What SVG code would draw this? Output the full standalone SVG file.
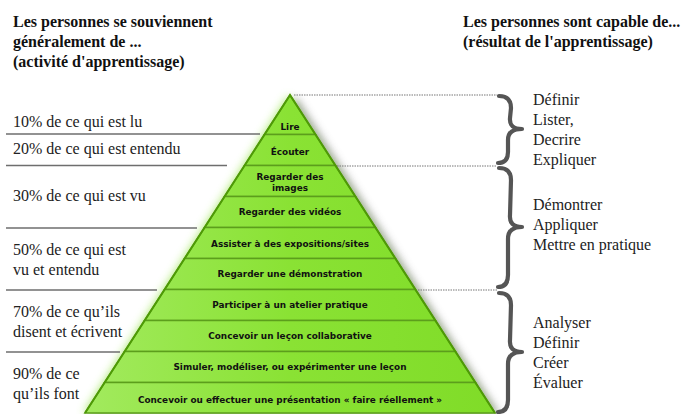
<svg xmlns="http://www.w3.org/2000/svg" width="690" height="414" viewBox="0 0 690 414">
<style>
.title{font-family:"Liberation Serif",serif;font-weight:bold;font-size:16px;fill:#111}
.lbl{font-family:"Liberation Serif",serif;font-size:16px;fill:#222}
.lvl polygon{fill:url(#g);stroke:#5c9e1c;stroke-width:1.6}
.lvl text{font-family:"DejaVu Sans",sans-serif;font-weight:bold;font-size:8.9px;fill:#111;text-anchor:middle}
.sep{stroke:#6e6e6e;stroke-width:1.6}
.dot{stroke:#777;stroke-width:1;stroke-dasharray:1.5 1}
.brace{fill:none;stroke:#555;stroke-width:4.2;stroke-linecap:round;stroke-linejoin:round}
</style>
<defs>
<linearGradient id="g" gradientUnits="userSpaceOnUse" x1="85" y1="0" x2="495" y2="0">
<stop offset="0" stop-color="#a2ea5e"/>
<stop offset="0.5" stop-color="#8ae234"/>
<stop offset="1" stop-color="#80dc28"/>
</linearGradient>
<filter id="blur" x="-20%" y="-20%" width="140%" height="140%"><feGaussianBlur stdDeviation="4"/></filter>
</defs>
<rect width="690" height="414" fill="#fff"/>
<g id="titles">
<text class="title" x="13" y="27">Les personnes se souviennent</text>
<text class="title" x="13" y="47">généralement de ...</text>
<text class="title" x="13" y="67">(activité d'apprentissage)</text>
<text class="title" x="463" y="27">Les personnes sont capable de...</text>
<text class="title" x="463" y="47">(résultat de l'apprentissage)</text>
</g>
<g id="pyramid-shadow">
<polygon points="296,97 500,415 90,415" fill="#555" opacity="0.55" filter="url(#blur)"/>
<polygon points="288,95 83,413 493,413" fill="#9be64f" opacity="0.7" filter="url(#blur)"/>
</g>
<g id="pyramid">
<g id="lvl-lire" class="lvl"><polygon points="290,95 315.5,134.5 264.5,134.5"/><text x="290" y="129.5">Lire</text></g>
<g id="lvl-ecouter" class="lvl"><polygon points="264.5,134.5 315.5,134.5 335.4,165.5 244.6,165.5"/><text x="290" y="155">Écouter</text></g>
<g id="lvl-images" class="lvl"><polygon points="244.6,165.5 335.4,165.5 355.4,196.5 224.6,196.5"/><text x="290" y="180">Regarder des</text><text x="290" y="190.5">images</text></g>
<g id="lvl-videos" class="lvl"><polygon points="224.6,196.5 355.4,196.5 375.4,227.5 204.6,227.5"/><text x="290" y="215">Regarder des vidéos</text></g>
<g id="lvl-expo" class="lvl"><polygon points="204.6,227.5 375.4,227.5 395.4,258.5 184.6,258.5"/><text x="290" y="247">Assister à des expositions/sites</text></g>
<g id="lvl-demo" class="lvl"><polygon points="184.6,258.5 395.4,258.5 415.4,289.5 164.6,289.5"/><text x="290" y="277">Regarder une démonstration</text></g>
<g id="lvl-atelier" class="lvl"><polygon points="164.6,289.5 415.4,289.5 435.4,320.5 144.6,320.5"/><text x="290" y="308">Participer à un atelier pratique</text></g>
<g id="lvl-collab" class="lvl"><polygon points="144.6,320.5 435.4,320.5 455.4,351.5 124.6,351.5"/><text x="290" y="339">Concevoir un leçon collaborative</text></g>
<g id="lvl-simuler" class="lvl"><polygon points="124.6,351.5 455.4,351.5 475.4,382.5 104.6,382.5"/><text x="290" y="370">Simuler, modéliser, ou expérimenter une leçon</text></g>
<g id="lvl-faire" class="lvl"><polygon points="104.6,382.5 475.4,382.5 495,413 85,413"/><text x="290" y="402.5">Concevoir ou effectuer une présentation « faire réellement »</text></g>
<polyline points="85,413 290,95 495,413" fill="none" stroke="#4e9a06" stroke-width="2"/>
</g>
<g id="connectors">
<line class="sep" x1="6" y1="134" x2="260" y2="134"/>
<line class="sep" x1="6" y1="165.5" x2="227" y2="165.5"/>
<line class="sep" x1="6" y1="228" x2="197" y2="228"/>
<line class="sep" x1="6" y1="290" x2="157" y2="290"/>
<line class="sep" x1="6" y1="352" x2="120" y2="352"/>
<line class="dot" x1="294" y1="95" x2="497" y2="95"/>
<line class="dot" x1="337" y1="166" x2="497" y2="166"/>
<line class="dot" x1="418" y1="290" x2="497" y2="290"/>
</g>
<g id="left-labels">
<text class="lbl" x="13" y="127">10% de ce qui est lu</text>
<text class="lbl" x="13" y="154">20% de ce qui est entendu</text>
<text class="lbl" x="13" y="201">30% de ce qui est vu</text>
<text class="lbl" x="13" y="255">50% de ce qui est</text>
<text class="lbl" x="13" y="275">vu et entendu</text>
<text class="lbl" x="13" y="317">70% de ce qu’ils</text>
<text class="lbl" x="13" y="337">disent et écrivent</text>
<text class="lbl" x="13" y="379">90% de ce</text>
<text class="lbl" x="13" y="399">qu’ils font</text>
</g>
<g id="brace-1"><path class="brace" d="M499,96 Q511,96 511,108 L510,118 Q509,129 522,129 Q508,129 508,140 L508,152 Q508,163 498,163"/></g>
<g id="brace-2"><path class="brace" d="M499,168 Q511,168 511,180 L510,215 Q509,227 522,227 Q508,227 508,239 L508,275 Q508,287 498,287"/></g>
<g id="brace-3"><path class="brace" d="M499,293 Q511,293 511,305 L510,340 Q509,352 522,352 Q508,352 508,364 L508,400 Q508,412 498,412"/></g>
<g id="right-labels">
<text class="lbl" x="533" y="105">Définir</text>
<text class="lbl" x="533" y="125">Lister,</text>
<text class="lbl" x="533" y="145">Decrire</text>
<text class="lbl" x="533" y="165">Expliquer</text>
<text class="lbl" x="533" y="210">Démontrer</text>
<text class="lbl" x="533" y="230">Appliquer</text>
<text class="lbl" x="533" y="250">Mettre en pratique</text>
<text class="lbl" x="533" y="328">Analyser</text>
<text class="lbl" x="533" y="348">Définir</text>
<text class="lbl" x="533" y="368">Créer</text>
<text class="lbl" x="533" y="388">Évaluer</text>
</g>
</svg>
